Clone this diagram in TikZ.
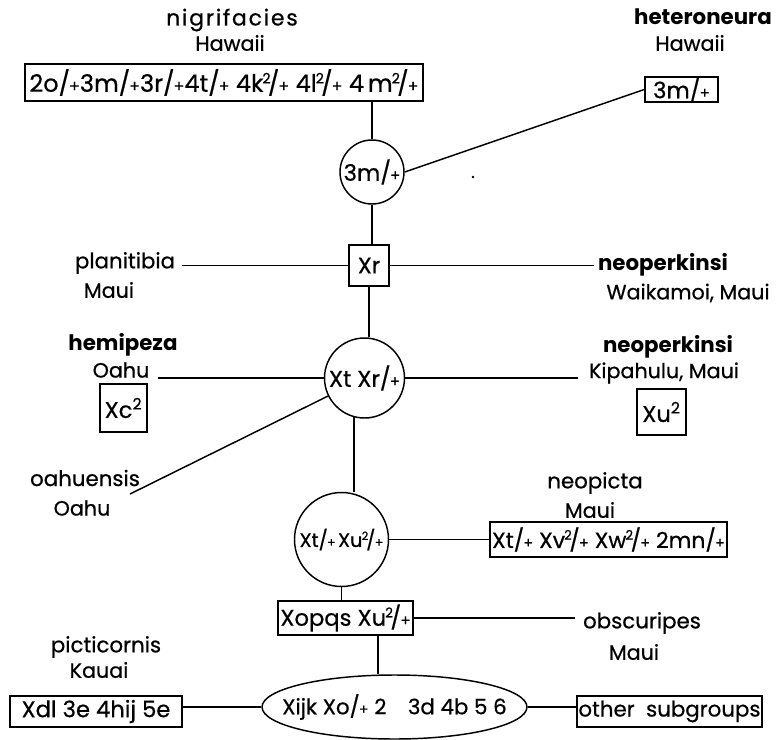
\documentclass[tikz,border=0pt]{standalone}
\usepackage{fontspec}
\setmainfont{Poppins}
\newfontfamily\medf{Poppins}[FakeBold=0.6]
\usetikzlibrary{shapes.geometric,calc}
\newcommand{\pp}{/\kern-0.04em\raisebox{0em}{\scalebox{0.66}{+}}}
\newcommand{\qp}{\kern-0.04em\textsuperscript{\scalebox{0.85}{2}}\kern-0.14em\pp}
\newcommand{\z}[1]{\makebox[0pt]{#1}}
\begin{document}
\begin{tikzpicture}[x=0.75pt,y=-0.75pt,line width=1.1pt,
  sp/.style={font=\fontsize{16}{18}\selectfont\medf, inner sep=0pt},
  spb/.style={font=\fontsize{16}{18}\selectfont\bfseries, inner sep=0pt},
  loc/.style={font=\fontsize{15.5}{17}\selectfont\medf, inner sep=0pt},
  bx/.style 2 args={draw, inner sep=0pt, minimum width={#1*0.75pt}, minimum height={#2*0.75pt}, font=\fontsize{17}{19}\selectfont\medf},
  crc/.style={draw, circle, inner sep=0pt, minimum size={#1*0.75pt}, font=\fontsize{17}{19}\selectfont\medf}]
\useasboundingbox (0,0) rectangle (776,740);

% labels
\node[sp, font=\fontsize{16.5}{18}\selectfont\medf\addfontfeature{LetterSpace=8}] (nigname) at (232,20) {nigrifacies};
\node[loc] (nigloc) at (230,43) {Hawaii};
\node[spb] (hetname) at (703,17) {heteroneura};
\node[loc] (hetloc) at (690,43) {Hawaii};
\node[sp] (planname) at (125,263) {planitibia};
\node[loc] (planloc) at (109,290) {Maui};
\node[spb] (neo1name) at (663,265) {neoperkinsi};
\node[loc] (neo1loc) at (688,293) {Waikamoi, Maui};
\node[spb] (hemname) at (123,345) {hemipeza};
\node[loc] (hemloc) at (121,370) {Oahu};
\node[spb] (neo2name) at (668,347) {neoperkinsi};
\node[loc] (neo2loc) at (664,373) {Kipahulu, Maui};
\node[sp] (oahname) at (85,478) {oahuensis};
\node[loc] (oahloc) at (82,508) {Oahu};
\node[sp] (npname) at (595,483) {neopicta};
\node[loc] (nploc) at (590,510) {Maui};
\node[sp] (obname) at (642,623) {obscuripes};
\node[loc] (obloc) at (634,652) {Maui};
\node[sp] (picname) at (106,647) {picticornis};
\node[loc] (picloc) at (99,670) {Kauai};

% boxes and circles
\node[bx={398}{37}, font=\fontsize{18}{20}\selectfont\medf] (nigbox) at (224,82.5) {\z{2o\pp3m\pp3r\pp4t\pp{} 4k\qp{} 4l\qp{} 4\,m\qp}};
\node[bx={73}{23}] (hetbox) at (681.5,89.5) {\z{3m\pp}};
\node[crc=64] (c1) at (372,172) {\z{3m\pp}};
\node[bx={40}{41}] (xr) at (369,265.5) {\z{Xr}};
\node[crc=80] (c2) at (364.5,378) {\z{Xt Xr\pp}};
\node[bx={47}{48}] (xc) at (123.5,408) {\z{Xc\textsuperscript{2}}};
\node[bx={49}{46}] (xu) at (661.5,412) {\z{Xu\textsuperscript{2}}};
\node[crc=94, font=\fontsize{14.5}{16}\selectfont\medf] (c3) at (341.5,539.5) {\z{Xt\pp\kern0.12em Xu\qp}};
\node[bx={237}{35}, font=\fontsize{16.5}{18}\selectfont\medf] (npbox) at (608.5,539.5) {\z{Xt\pp{} Xv\qp{} Xw\qp{} 2mn\pp}};
\node[bx={135}{34}] (xo) at (345.5,618) {\z{Xopqs Xu\qp}};
\node[draw, ellipse, inner sep=0pt, minimum width={265*0.75pt}, minimum height={64*0.75pt}, font=\fontsize{16}{18}\selectfont\medf] (ell) at (394.5,707) {\z{Xijk Xo\pp{} 2\quad 3d 4b 5 6}};
\node[bx={172}{31}] (xdl) at (96,711.5) {\z{Xdl 3e 4hij 5e}};
\node[bx={185}{31}, font=\fontsize{16}{18}\selectfont\medf] (oth) at (669.5,711.5) {\z{other\ \ subgroups}};

\coordinate (oahend) at (130,494);
\fill (473,177) circle (1.3);

% connectors
\draw (c1.north) -- (c1.north |- nigbox.south);
\draw (hetbox.west) -- (c1.east);
\draw (c1.south) -- (c1.south |- xr.north);
\draw (xr.west) -- ($(xr.west -| planname.east)+(6,0)$);
\draw (xr.east) -- ($(xr.east -| neo1name.west)+(-3,0)$);
\draw (xr.south) -- (xr.south |- c2.north);
\draw (c2.west) -- ($(c2.west -| hemloc.east)+(8,0)$);
\draw (c2.east) -- ($(c2.east -| neo2loc.west)+(-10,0)$);
\draw (c2) -- (oahend);
\draw (c2.-105) -- (c2.-105 |- c3.north);
\draw (c3.east) -- (npbox.west);
\draw (c3.south) -- (c3.south |- xo.north);
\draw (xo.east) -- ($(xo.east -| obname.west)+(-7,0)$);
\draw ([xshift=24.4pt]xo.south) -- ([xshift=24.4pt]xo.south |- ell.north);
\draw (ell.west) -- (ell.west -| xdl.east);
\draw (ell.east) -- (ell.east -| oth.west);
\end{tikzpicture}
\end{document}
